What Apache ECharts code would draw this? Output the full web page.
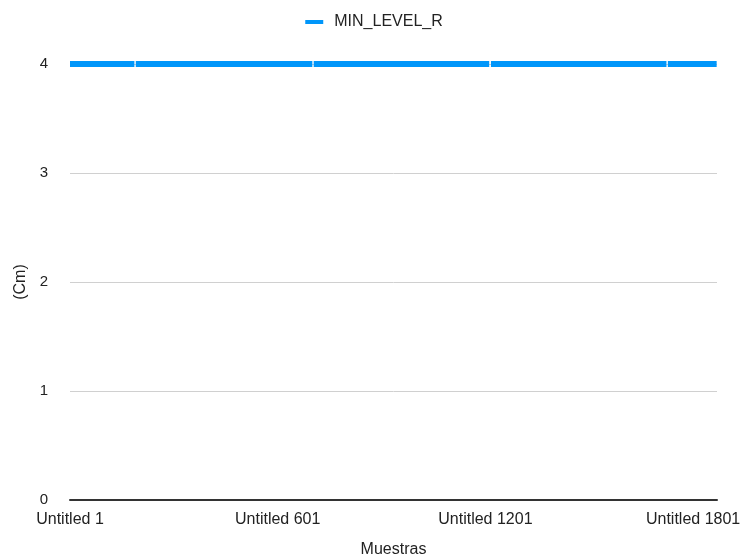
<!DOCTYPE html>
<html>
<head>
<meta charset="utf-8">
<script src="https://cdn.jsdelivr.net/npm/echarts@6/dist/echarts.min.js"></script>
<style>
  html, body { margin: 0; padding: 0; background: #fff; }
  #chart { width: 748px; height: 559px; }
</style>
</head>
<body>
<div id="chart"></div>
<script>
// Sample series: readings stored as runs (value, repeat count); null marks missing samples.
const seriesName = 'MIN_LEVEL_R';
const runValues  = [4, null, 4, null, 4, null, 4, null, 4];
const runLengths = [188, 2, 512, 2, 510, 2, 509, 2, 143];
const categoryPrefix = 'Untitled ';
const yTicks = [0, 1, 2, 3, 4];

// Expand runs into per-sample values and sample names
const levelValues = [];
runValues.forEach((v, i) => {
  for (let k = 0; k < runLengths[i]; k++) levelValues.push(v);
});
const categories = levelValues.map((_, i) => categoryPrefix + (i + 1));

const chart = echarts.init(document.getElementById('chart'), null, { renderer: 'canvas' });
const font = 'Liberation Sans, Arial, Helvetica, sans-serif';

chart.setOption({
  animation: false,
  textStyle: { fontFamily: font },
  legend: {
    top: 9,
    left: 'center',
    icon: 'rect',
    itemWidth: 18,
    itemHeight: 4,
    itemGap: 10,
    textStyle: { fontSize: 16, color: '#222', fontFamily: font, padding: [0, 0, 0, 6] },
    data: [seriesName]
  },
  grid: { left: 70, right: 31, top: 64, bottom: 59, outerBoundsMode: 'none', containLabel: false },
  xAxis: {
    type: 'category',
    data: categories,
    boundaryGap: false,
    name: 'Muestras',
    nameLocation: 'middle',
    nameGap: 42,
    nameTextStyle: { fontSize: 16, color: '#222', fontFamily: font },
    axisLine: { lineStyle: { color: '#333', width: 2 } },
    axisTick: { show: false },
    axisLabel: {
      interval: 599,
      fontSize: 16,
      color: '#222',
      margin: 12,
      fontFamily: font
    },
    splitLine: { show: false }
  },
  yAxis: {
    type: 'value',
    min: yTicks[0],
    max: yTicks[yTicks.length - 1],
    interval: 1,
    name: '(Cm)',
    nameLocation: 'middle',
    nameGap: 41,
    nameRotate: 90,
    nameTextStyle: { fontSize: 16, color: '#222', fontFamily: font },
    axisLine: { show: false },
    axisTick: { show: false },
    axisLabel: { fontSize: 15, color: '#222', margin: 22, fontFamily: font, padding: [2, 0, 0, 0] },
    splitLine: { lineStyle: { color: '#d0d0d0', width: 1 } }
  },
  series: [{
    name: seriesName,
    type: 'line',
    data: levelValues,
    showSymbol: false,
    connectNulls: false,
    color: '#0096fa',
    lineStyle: { width: 6, color: '#0096fa', cap: 'butt' },
    emphasis: { disabled: true }
  }]
});
</script>
</body>
</html>
